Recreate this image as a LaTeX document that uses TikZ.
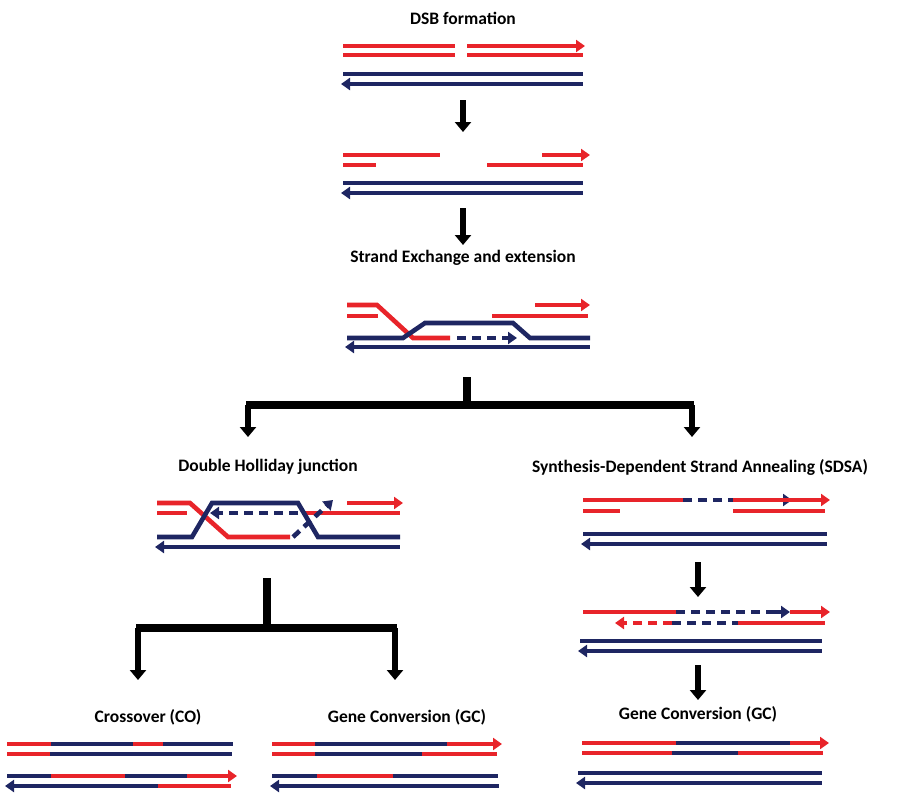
\documentclass[tikz,border=0pt]{standalone}
\usepackage{fontspec}
\setmainfont{Carlito}
\usetikzlibrary{arrows.meta}
\definecolor{dnared}{RGB}{232,36,42}
\definecolor{dnablue}{RGB}{30,38,98}
\tikzset{
  red/.style={draw=dnared, line width=4.6pt},
  blue/.style={draw=dnablue, line width=4.6pt},
  fwd/.style={-{Triangle[length=9pt,width=12pt]}},
  bwd/.style={{Triangle[length=9pt,width=12pt]}-},
  dsh/.style={dash pattern=on 9pt off 6pt},
  flow/.style={line width=5.5pt, -{Triangle[length=10pt,width=16pt]}},
  brk/.style={line width=8pt},
  lbl/.style={font=\fontsize{17.5}{20}\selectfont\bfseries}
}
\begin{document}
\begin{tikzpicture}[x=1pt,y=-1pt]
\useasboundingbox (0,0) rectangle (920,800);
% labels
\node[lbl] (dsb) at (463,18) {DSB formation};
\node[lbl] (sex) at (463,258) {Strand Exchange and extension};
\node[lbl] (dhj) at (268,467) {Double Holliday junction};
\node[lbl] (sdsa) at (700,467) {Synthesis-Dependent Strand Annealing (SDSA)};
\node[lbl] (co) at (148,717) {Crossover (CO)};
\node[lbl] (gcl) at (407,717) {Gene Conversion (GC)};
\node[lbl] (gcr) at (698,714) {Gene Conversion (GC)};

% DSB formation
\draw[red] (343,46) -- (455,46);
\draw[red,fwd] (467,46) -- (585,46);
\draw[red] (343,55) -- (455,55) (467,55) -- (583,55);
\draw[blue] (343,74) -- (583,74);
\draw[blue,bwd] (341,84) -- (583,84);
\draw[flow] (463,100) -- (463,132);

% resection
\draw[red] (343,155) -- (440,155) (343,165) -- (376,165) (487,165) -- (583,165);
\draw[red,fwd] (542,155) -- (590,155);
\draw[blue] (343,183) -- (583,183);
\draw[blue,bwd] (341,193) -- (583,193);
\draw[flow] (463,208) -- (463,245);

% strand invasion
\draw[red] (347,305) -- (377,305) -- (413,338) -- (450,338);
\draw[red] (347,316) -- (378,316) (492,316) -- (588,316);
\draw[red,fwd] (535,305) -- (590,305);
\draw[blue] (347,338) -- (403,338) -- (425,323) -- (513,323) -- (530,338) -- (590,338);
\draw[blue,dsh,fwd] (457,338) -- (517,338);
\draw[blue,bwd] (345,347) -- (590,347);

% first branching
\coordinate (b1) at (467,377);
\coordinate (b1m) at (467,405);
\coordinate (b1l) at (248,405);
\coordinate (b1r) at (692,405);
\draw[brk] (b1) -- (b1m);
\draw[brk] ([xshift=-2pt]b1l) -- ([xshift=2pt]b1r);
\draw[flow] (b1l) -- (248,437);
\draw[flow] (b1r) -- (692,437);

% double Holliday junction
\draw[red] (157,503) -- (190,503) -- (228,537) -- (290,537);
\draw[red] (157,513) -- (187,513) (305,513) -- (400,513);
\draw[red,fwd] (347,503) -- (403,503);
\draw[blue] (157,537) -- (192,537) -- (212,503) -- (298,503) -- (318,537) -- (400,537);
\draw[blue,dsh,fwd] (298,513) -- (210,513);
\draw[blue,dsh,fwd] (293,537) -- (333,500);
\draw[blue,bwd] (155,547) -- (400,547);

% second branching
\coordinate (b2) at (267,578);
\coordinate (b2m) at (267,628);
\coordinate (b2l) at (138,628);
\coordinate (b2r) at (395,628);
\draw[brk] (b2) -- (b2m);
\draw[brk] ([xshift=-2pt]b2l) -- ([xshift=2pt]b2r);
\draw[flow] (b2l) -- (138,680);
\draw[flow] (b2r) -- (395,680);

% SDSA
\draw[red] (583,500) -- (683,500);
\draw[blue,dsh,fwd] (683,500) -- (792,500);
\draw[red,fwd] (733,500) -- (830,500);
\draw[red] (583,511) -- (620,511) (733,511) -- (825,511);
\draw[blue] (583,534) -- (827,534);
\draw[blue,bwd] (581,544) -- (827,544);
\draw[flow] (698,562) -- (698,597);

\draw[red] (583,612) -- (676,612);
\draw[blue,dsh] (676,612) -- (780,612);
\draw[blue,fwd] (775,612) -- (790,612);
\draw[red,fwd] (790,612) -- (830,612);
\draw[red,dsh,fwd] (672,623) -- (615,623);
\draw[blue,dsh] (672,623) -- (738,623);
\draw[red] (738,623) -- (825,623);
\draw[blue] (580,641) -- (822,641);
\draw[blue,bwd] (578,651) -- (822,651);
\draw[flow] (698,665) -- (698,700);

% crossover product
\draw[red] (7,744) -- (51,744) (133,744) -- (163,744) (7,754) -- (50,754) (51,776) -- (125,776) (158,786) -- (231,786);
\draw[blue] (51,744) -- (133,744) (163,744) -- (233,744) (50,754) -- (232,754) (7,776) -- (51,776) (125,776) -- (187,776);
\draw[red,fwd] (187,776) -- (237,776);
\draw[blue,bwd] (5,786) -- (158,786);

% gene conversion (dHJ)
\draw[red] (272,744) -- (315,744) (272,754) -- (315,754) (422,754) -- (497,754) (317,776) -- (393,776);
\draw[blue] (315,744) -- (447,744) (315,754) -- (422,754) (272,776) -- (317,776) (393,776) -- (498,776);
\draw[red,fwd] (447,744) -- (502,744);
\draw[blue,bwd] (270,786) -- (499,786);

% gene conversion (SDSA)
\draw[red] (582,743) -- (676,743) (582,753) -- (672,753) (738,753) -- (823,753);
\draw[blue] (676,743) -- (790,743) (672,753) -- (738,753) (578,773) -- (822,773);
\draw[red,fwd] (790,743) -- (829,743);
\draw[blue,bwd] (576,783) -- (822,783);
\end{tikzpicture}
\end{document}
